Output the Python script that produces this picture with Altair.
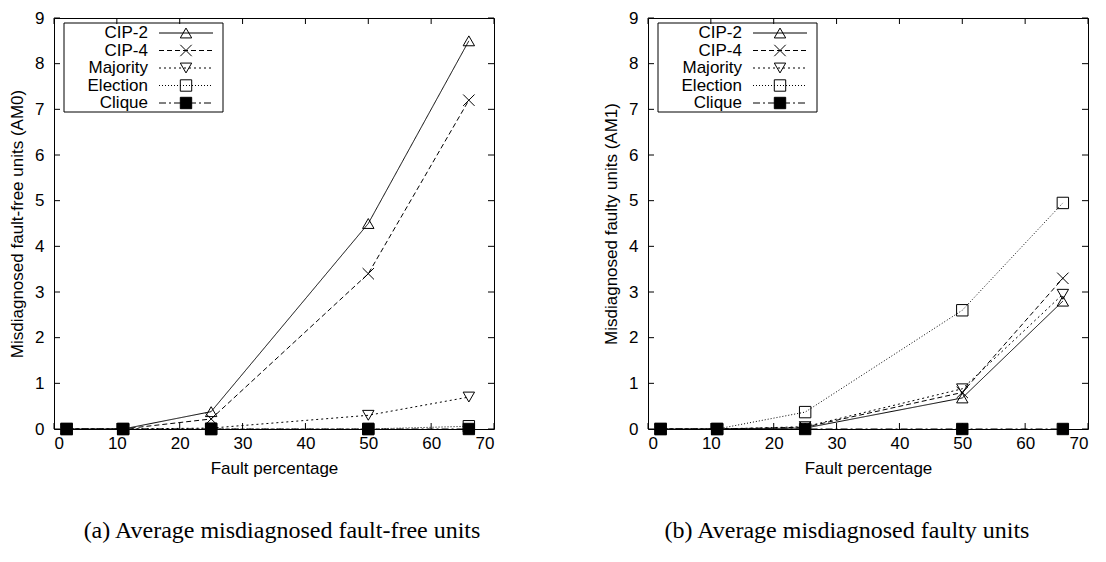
import altair as alt
import pandas as pd

# ---- data ----
fault_pct = [2, 11, 25, 50, 66]
series = ["CIP-2", "CIP-4", "Majority", "Election", "Clique"]

am0_cip2 = [0, 0, 0.38, 4.5, 8.5]
am0_cip4 = [0, 0, 0.22, 3.4, 7.2]
am0_majority = [0, 0, 0.02, 0.3, 0.7]
am0_election = [0, 0, 0, 0, 0.06]
am0_clique = [0, 0, 0, 0, 0]

am1_cip2 = [0, 0, 0.02, 0.68, 2.8]
am1_cip4 = [0, 0, 0.04, 0.8, 3.3]
am1_majority = [0, 0, 0.05, 0.88, 2.95]
am1_election = [0, 0, 0.37, 2.6, 4.95]
am1_clique = [0, 0, 0, 0, 0]

x_ticks = [0, 10, 20, 30, 40, 50, 60, 70]
y_ticks = [0, 1, 2, 3, 4, 5, 6, 7, 8, 9]

W = 440
H = 411
TICK = 6
SANS = "Liberation Sans"
SERIF = "Liberation Serif"

dash_range = [[1, 0], [5, 3], [2, 3], [1, 2], [7, 3, 2, 3]]
shape_range = ["triangle-up", "M-1,-1L1,1M1,-1L-1,1", "triangle-down", "square", "square"]
fill_range = ["transparent", "transparent", "transparent", "transparent", "black"]


def panel(values, ytitle, caption, cap_dx):
    rows = []
    for s, ys in zip(series, values):
        for x, y in zip(fault_pct, ys):
            rows.append({"series": s, "x": x, "y": y})
    df = pd.DataFrame(rows)

    xs = alt.Scale(domain=[0, 70], nice=False, zero=False)
    ysc = alt.Scale(domain=[0, 9], nice=False, zero=False)
    xax = alt.Axis(values=x_ticks, title="Fault percentage", labelPadding=6,
                   titlePadding=9, format="d")
    yax = alt.Axis(values=y_ticks, title=ytitle, labelPadding=10,
                   titlePadding=8, format="d")
    dash = alt.Scale(domain=series, range=dash_range)
    shp = alt.Scale(domain=series, range=shape_range)
    fil = alt.Scale(domain=series, range=fill_range)

    lines = alt.Chart(df).mark_line(color="black", strokeWidth=1).encode(
        x=alt.X("x:Q", scale=xs, axis=xax, title="Fault percentage"),
        y=alt.Y("y:Q", scale=ysc, axis=yax, title=ytitle),
        strokeDash=alt.StrokeDash("series:N", scale=dash, legend=None),
        detail="series:N",
        order="x:Q",
    )
    points = alt.Chart(df).mark_point(filled=True, stroke="black", strokeWidth=1,
                                      size=130, opacity=1, fillOpacity=1).encode(
        x=alt.X("x:Q", scale=xs, axis=xax, title="Fault percentage"),
        y=alt.Y("y:Q", scale=ysc, axis=yax, title=ytitle),
        shape=alt.Shape("series:N", scale=shp, legend=None),
        fill=alt.Fill("series:N", scale=fil, legend=None),
    )

    xt = pd.DataFrame({"x": x_ticks})
    yt = pd.DataFrame({"y": y_ticks})
    xb = alt.Chart(xt).mark_rule(color="black", strokeWidth=1).encode(
        x=alt.X("x:Q", scale=xs, axis=xax, title="Fault percentage"),
        y=alt.value(H), y2=alt.value(H - TICK))
    xtop = alt.Chart(xt).mark_rule(color="black", strokeWidth=1).encode(
        x=alt.X("x:Q", scale=xs, axis=xax, title="Fault percentage"),
        y=alt.value(0), y2=alt.value(TICK))
    yl = alt.Chart(yt).mark_rule(color="black", strokeWidth=1).encode(
        y=alt.Y("y:Q", scale=ysc, axis=yax, title=ytitle),
        x=alt.value(0), x2=alt.value(TICK))
    yr = alt.Chart(yt).mark_rule(color="black", strokeWidth=1).encode(
        y=alt.Y("y:Q", scale=ysc, axis=yax, title=ytitle),
        x=alt.value(W - TICK), x2=alt.value(W))

    data_group = alt.layer(xb, xtop, yl, yr, lines, points)

    # ---- gnuplot-like key ----
    leg = pd.DataFrame({"series": series})
    ly = alt.Y("series:N", axis=None,
               scale=alt.Scale(type="point", domain=series, range=[15, 85], padding=0))
    box = alt.Chart(pd.DataFrame({"k": [0]})).mark_rect(
        stroke="black", strokeWidth=1, fill="white", fillOpacity=0).encode(
        x=alt.value(10), x2=alt.value(169), y=alt.value(5), y2=alt.value(94))
    ltext = alt.Chart(leg).mark_text(align="right", baseline="middle", font=SANS,
                                     fontSize=17, color="black").encode(
        x=alt.value(94), y=ly, text="series:N")
    lrule = alt.Chart(leg).mark_rule(color="black", strokeWidth=1).encode(
        x=alt.value(105), x2=alt.value(159), y=ly,
        strokeDash=alt.StrokeDash("series:N", scale=dash, legend=None))
    lpts = alt.Chart(leg).mark_point(filled=True, stroke="black", strokeWidth=1,
                                     size=130, opacity=1, fillOpacity=1).encode(
        x=alt.value(132), y=ly,
        shape=alt.Shape("series:N", scale=shp, legend=None),
        fill=alt.Fill("series:N", scale=fil, legend=None))
    legend_group = alt.layer(box, lrule, lpts, ltext)

    return alt.layer(data_group, legend_group).resolve_scale(y="independent").properties(
        width=W, height=H,
        title=alt.TitleParams(caption, orient="bottom", anchor="middle", frame="group",
                              font=SERIF, fontSize=24, fontWeight="normal", color="black",
                              offset=43, dx=cap_dx))


left = panel([am0_cip2, am0_cip4, am0_majority, am0_election, am0_clique],
             "Misdiagnosed fault-free units (AM0)",
             "(a) Average misdiagnosed fault-free units", 8)
right = panel([am1_cip2, am1_cip4, am1_majority, am1_election, am1_clique],
              "Misdiagnosed faulty units (AM1)",
              "(b) Average misdiagnosed faulty units", -21)

chart = alt.hconcat(left, right, spacing=107).properties(
    padding={"left": 0, "top": 0, "right": 0, "bottom": 0}
).configure_view(stroke="black", strokeWidth=1).configure_axis(
    domain=False, ticks=False, grid=False,
    labelFont=SANS, labelFontSize=17, labelColor="black",
    titleFont=SANS, titleFontSize=17, titleFontWeight="normal", titleColor="black",
)

chart.save("out.html", embed_options={"renderer": "svg", "actions": False})
